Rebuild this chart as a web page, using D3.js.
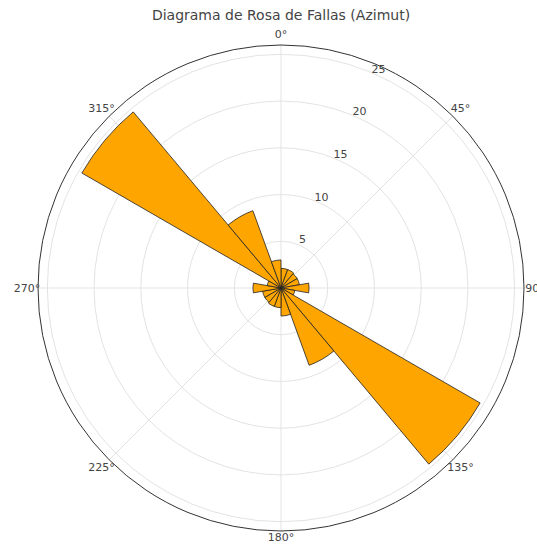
<!DOCTYPE html>
<html>
<head>
<meta charset="utf-8">
<script src="https://cdn.jsdelivr.net/npm/d3@7"></script>
<style>
  html, body { margin: 0; padding: 0; background: #fff; }
  svg { display: block; font-family: "DejaVu Sans", sans-serif; }
</style>
</head>
<body>
<svg id="chart" width="537" height="544"></svg>
<script>
// Bin start azimuths (degrees), 20° wide bins
const binStarts = [0, 20, 40, 60, 80, 100, 120, 140, 160, 180, 200, 220, 240, 260, 280, 300, 320, 340];
const binWidth = 20;
// Counts per bin (bidirectional rose)
const counts = [2.1, 2.1, 2.0, 2.0, 3.0, 1.5, 24.6, 8.8, 3.0, 2.1, 2.1, 2.0, 2.0, 3.0, 1.5, 24.6, 8.8, 3.0];
// Radial ticks
const rTicks = [5, 10, 15, 20, 25];
// Angular ticks
const thetaTicks = [0, 45, 90, 135, 180, 225, 270, 315];
const titleText = "Diagrama de Rosa de Fallas (Azimut)";

const svg = d3.select("#chart");
const cx = 281, cy = 288, R = 243;
const rMax = 26.0;
const r = d3.scaleLinear().domain([0, rMax]).range([0, R]);
const toRad = d => d * Math.PI / 180;

const g = svg.append("g").attr("transform", `translate(${cx},${cy})`);

// grid circles
g.selectAll("circle.grid").data(rTicks).join("circle")
  .attr("class", "grid")
  .attr("r", d => r(d))
  .attr("fill", "none")
  .attr("stroke", "#e3e3e3")
  .attr("stroke-width", 1);

// radial grid lines
g.selectAll("line.grid").data(thetaTicks).join("line")
  .attr("x1", 0).attr("y1", 0)
  .attr("x2", d => R * Math.sin(toRad(d)))
  .attr("y2", d => -R * Math.cos(toRad(d)))
  .attr("stroke", "#e3e3e3")
  .attr("stroke-width", 1);

// bars
const arc = d3.arc()
  .innerRadius(0)
  .outerRadius(d => r(d.v))
  .startAngle(d => toRad(d.s))
  .endAngle(d => toRad(d.s + binWidth));

g.selectAll("path.bar").data(binStarts.map((s, i) => ({ s, v: counts[i] }))).join("path")
  .attr("class", "bar")
  .attr("d", arc)
  .attr("fill", "#ffa500")
  .attr("stroke", "#222")
  .attr("stroke-width", 0.8)
  .attr("stroke-linejoin", "miter");

// outer circle
g.append("circle").attr("r", R).attr("fill", "none").attr("stroke", "#333").attr("stroke-width", 1);

// radial labels
const rlAngle = toRad(24);
g.selectAll("text.rl").data(rTicks).join("text")
  .attr("x", d => (r(d) + 6) * Math.sin(rlAngle))
  .attr("y", d => -(r(d) + 6) * Math.cos(rlAngle))
  .attr("text-anchor", "middle")
  .attr("dominant-baseline", "central")
  .attr("font-size", 11)
  .attr("fill", "#444")
  .text(d => d);

// angular labels
const lr = d => (d === 180 ? 249 : 254);
g.selectAll("text.tl").data(thetaTicks).join("text")
  .attr("x", d => lr(d) * Math.sin(toRad(d)))
  .attr("y", d => -lr(d) * Math.cos(toRad(d)))
  .attr("text-anchor", "middle")
  .attr("dominant-baseline", "central")
  .attr("font-size", 11)
  .attr("fill", "#444")
  .text(d => d + "°");

// title
svg.append("text")
  .attr("x", cx).attr("y", 15)
  .attr("text-anchor", "middle")
  .attr("dominant-baseline", "central")
  .attr("font-size", 14)
  .attr("fill", "#444")
  .text(titleText);
</script>
</body>
</html>
